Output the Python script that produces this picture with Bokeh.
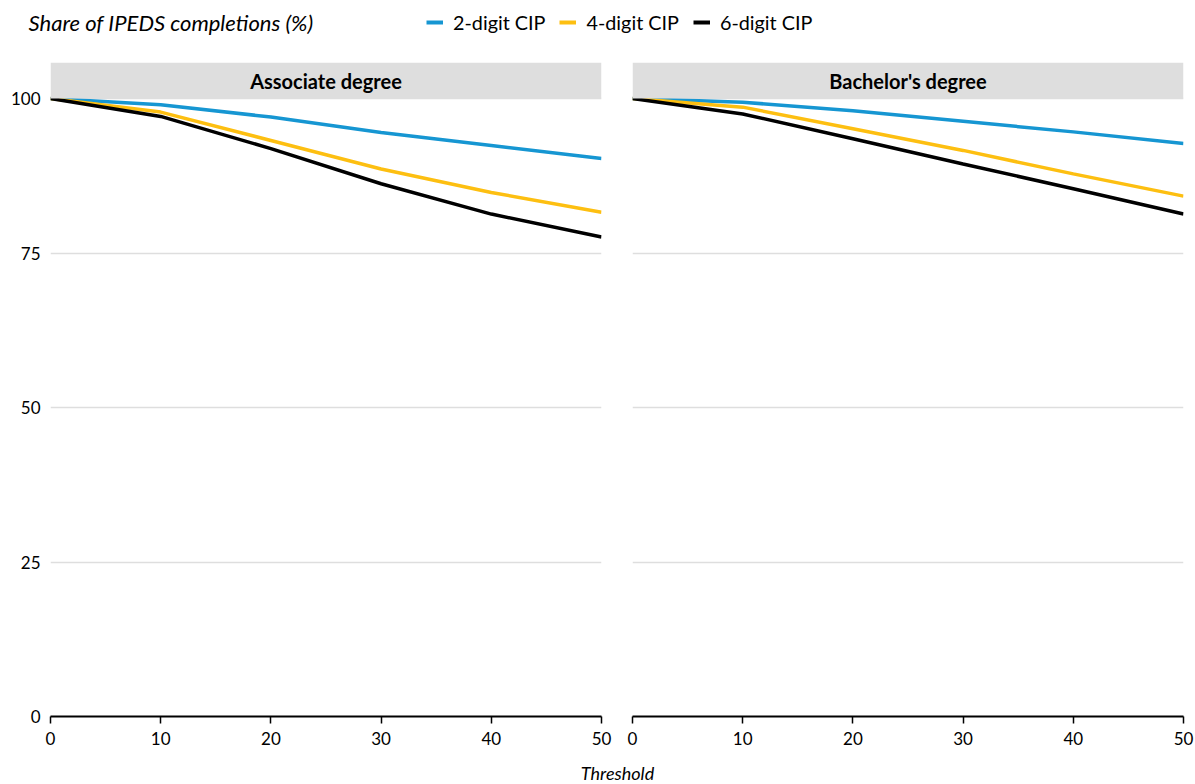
from bokeh.plotting import figure
from bokeh.layouts import column, row
from bokeh.models import Range1d, BoxAnnotation, Label, Legend, LegendItem, FixedTicker
from bokeh.core.properties import value
from bokeh.embed import file_html
from bokeh.resources import INLINE

# ---- data ----
thresholds = [0, 10, 20, 30, 40, 50]
panels = ["Associate degree", "Bachelor's degree"]
series_names = ["2-digit CIP", "4-digit CIP", "6-digit CIP"]
series_colors = ["#1696d2", "#fdbf11", "#000000"]

assoc_2digit = [100, 99.0, 97.0, 94.5, 92.4, 90.3]
assoc_4digit = [100, 97.8, 93.2, 88.6, 84.8, 81.6]
assoc_6digit = [100, 97.1, 91.9, 86.2, 81.3, 77.6]

bach_2digit = [100, 99.4, 98.0, 96.3, 94.6, 92.7]
bach_4digit = [100, 98.6, 95.1, 91.6, 87.8, 84.2]
bach_6digit = [100, 97.5, 93.5, 89.4, 85.4, 81.3]

y_ticks = [0, 25, 50, 75, 100]
x_ticks = [0, 10, 20, 30, 40, 50]

FONT = "Lato"
W = 1195
HEADER_H = 62
FOOTER_H = 30
PANEL_H = 784 - HEADER_H - FOOTER_H
BOTTOM_BORDER = 38
FRAME_H = PANEL_H - BOTTOM_BORDER
PX_PER_UNIT = 618 / 100.0
Y_TOP = FRAME_H / PX_PER_UNIT


def blank(width, height, xr, yr):
    f = figure(width=width, height=height, x_range=Range1d(*xr), y_range=Range1d(*yr),
               x_axis_type=None, y_axis_type=None, output_backend="svg",
               toolbar_location=None, min_border=0)
    f.outline_line_color = None
    f.grid.visible = False
    return f


# ---- header: title + legend ----
hdr = blank(W, HEADER_H, (0, W), (0, HEADER_H))
hdr.text(x=[28], y=[HEADER_H - 22], text=["Share of IPEDS completions (%)"],
         text_font=value(FONT), text_font_style="italic", text_font_size="22px",
         text_baseline="middle", text_align="left", text_color="#000000")
items = []
for name, col in zip(series_names, series_colors):
    # legend proxy lines, placed outside the visible header range
    r = hdr.line(x=[-100, -90], y=[-100, -100], line_color=col, line_width=4)
    items.append(LegendItem(label=name, renderers=[r]))
leg = Legend(items=items, orientation="horizontal", location=(426, 28),
             glyph_width=17, glyph_height=20, label_standoff=10, spacing=14,
             padding=0, margin=0, border_line_color=None, background_fill_alpha=0,
             label_text_font=FONT, label_text_font_size="19.8px", label_text_color="#000000")
hdr.add_layout(leg, "center")


def panel(title, ys, width, left, right, show_y):
    p = figure(width=width, height=PANEL_H, x_range=Range1d(0, 50), y_range=Range1d(0, Y_TOP),
               output_backend="svg", toolbar_location=None,
               min_border_left=left, min_border_right=right, min_border_top=0,
               min_border_bottom=BOTTOM_BORDER)
    p.outline_line_color = None
    p.xgrid.visible = False
    p.ygrid.grid_line_color = "#dedede"
    p.ygrid.grid_line_width = 1.5
    p.yaxis.ticker = FixedTicker(ticks=y_ticks)
    p.xaxis.ticker = FixedTicker(ticks=x_ticks)
    p.yaxis.axis_line_color = None
    p.yaxis.major_tick_line_color = None
    p.yaxis.minor_tick_line_color = None
    p.yaxis.major_label_text_font = FONT
    p.yaxis.major_label_text_font_size = "17px"
    p.yaxis.major_label_text_color = "#000000"
    p.yaxis.major_label_standoff = 4
    if not show_y:
        p.yaxis.major_label_text_alpha = 0
    p.xaxis.axis_line_color = "#000000"
    p.xaxis.axis_line_width = 2
    p.xaxis.major_tick_line_color = "#000000"
    p.xaxis.major_tick_line_width = 1.5
    p.xaxis.major_tick_in = 0
    p.xaxis.major_tick_out = 7
    p.xaxis.minor_tick_line_color = None
    p.xaxis.major_label_text_font = FONT
    p.xaxis.major_label_text_font_size = "17px"
    p.xaxis.major_label_text_color = "#000000"
    p.xaxis.major_label_standoff = 8
    for y, name, col in zip(ys, series_names, series_colors):
        p.line(thresholds, y, line_color=col, line_width=3.5)
    p.add_layout(BoxAnnotation(bottom=100, top=Y_TOP, fill_color="#dedede", fill_alpha=1,
                               line_color=None, level="overlay"))
    p.add_layout(Label(x=25, y=(100 + Y_TOP) / 2, text=title, text_align="center",
                       text_baseline="middle", text_font=FONT, text_font_style="bold",
                       text_font_size="20px", text_color="#000000", level="overlay"))
    return p


left = panel(panels[0], [assoc_2digit, assoc_4digit, assoc_6digit], 616, 50, 15, True)
right = panel(panels[1], [bach_2digit, bach_4digit, bach_6digit], W - 616, 16, 12, False)

# ---- footer: shared x-axis title ----
ftr = blank(W, FOOTER_H, (0, W), (0, FOOTER_H))
ftr.text(x=[617], y=[12], text=["Threshold"], text_font=value(FONT),
         text_font_style="italic", text_font_size="18px", text_align="center",
         text_baseline="middle", text_color="#000000")

layout = column(hdr, row(left, right, spacing=0), ftr, spacing=0)
open("out.html", "w").write(file_html(layout, INLINE))
